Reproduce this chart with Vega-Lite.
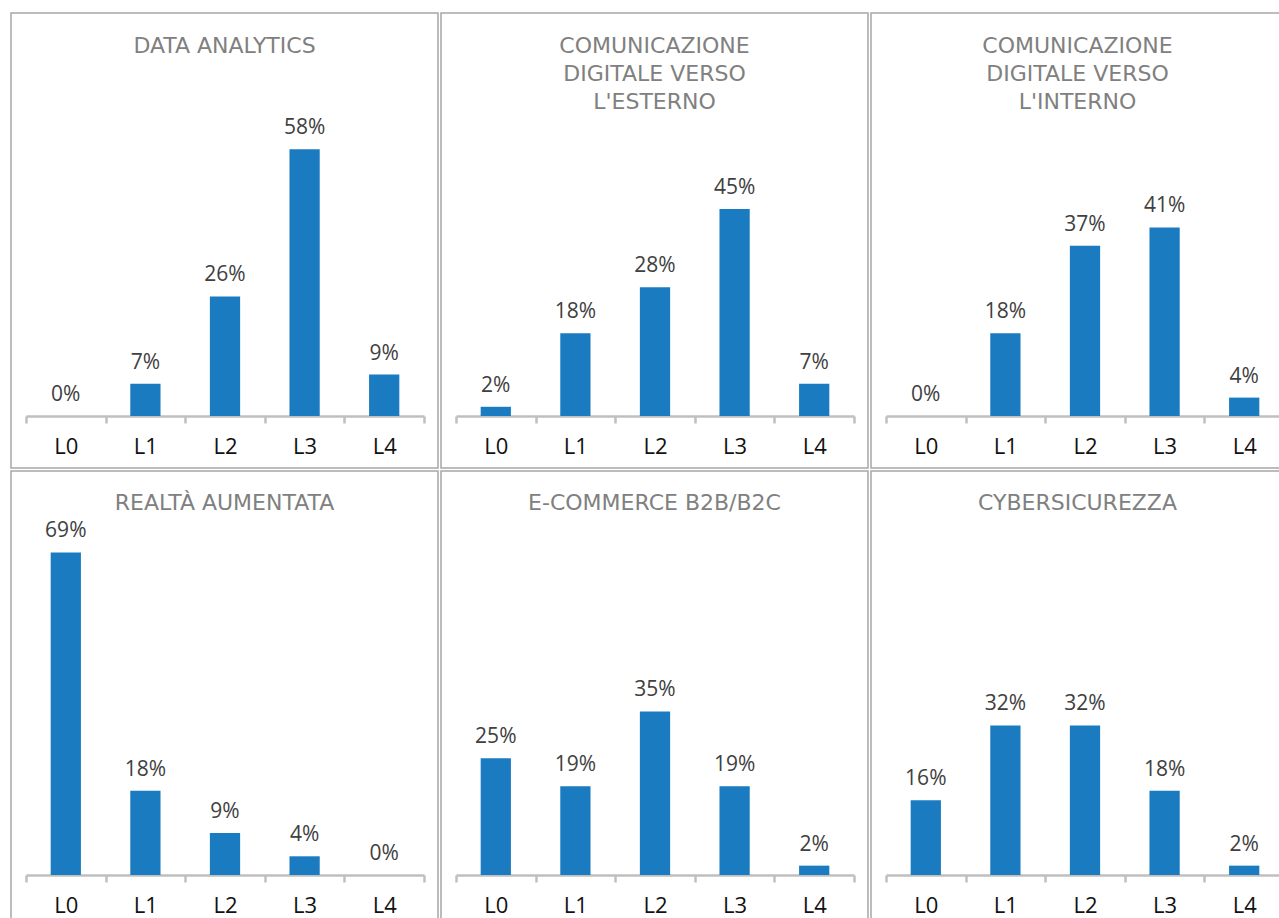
{
  "$schema": "https://vega.github.io/schema/vega-lite/v6.json",
  "padding": {"left": 10, "top": 12, "right": 0, "bottom": 0},
  "background": "white",
  "data": {"values": [
    {"tema": "DA", "livello": "L0", "valore": 0},
    {"tema": "DA", "livello": "L1", "valore": 0.07},
    {"tema": "DA", "livello": "L2", "valore": 0.26},
    {"tema": "DA", "livello": "L3", "valore": 0.58},
    {"tema": "DA", "livello": "L4", "valore": 0.09},
    {"tema": "CE", "livello": "L0", "valore": 0.02},
    {"tema": "CE", "livello": "L1", "valore": 0.18},
    {"tema": "CE", "livello": "L2", "valore": 0.28},
    {"tema": "CE", "livello": "L3", "valore": 0.45},
    {"tema": "CE", "livello": "L4", "valore": 0.07},
    {"tema": "CI", "livello": "L0", "valore": 0},
    {"tema": "CI", "livello": "L1", "valore": 0.18},
    {"tema": "CI", "livello": "L2", "valore": 0.37},
    {"tema": "CI", "livello": "L3", "valore": 0.41},
    {"tema": "CI", "livello": "L4", "valore": 0.04},
    {"tema": "RA", "livello": "L0", "valore": 0.69},
    {"tema": "RA", "livello": "L1", "valore": 0.18},
    {"tema": "RA", "livello": "L2", "valore": 0.09},
    {"tema": "RA", "livello": "L3", "valore": 0.04},
    {"tema": "RA", "livello": "L4", "valore": 0},
    {"tema": "EC", "livello": "L0", "valore": 0.25},
    {"tema": "EC", "livello": "L1", "valore": 0.19},
    {"tema": "EC", "livello": "L2", "valore": 0.35},
    {"tema": "EC", "livello": "L3", "valore": 0.19},
    {"tema": "EC", "livello": "L4", "valore": 0.02},
    {"tema": "CS", "livello": "L0", "valore": 0.16},
    {"tema": "CS", "livello": "L1", "valore": 0.32},
    {"tema": "CS", "livello": "L2", "valore": 0.32},
    {"tema": "CS", "livello": "L3", "valore": 0.18},
    {"tema": "CS", "livello": "L4", "valore": 0.02}
  ]},
  "columns": 3,
  "spacing": {"row": 1, "column": 1},
  "concat": [
    {
      "width": 427, "height": 455,
      "title": {"text": "DATA ANALYTICS", "offset": -45},
      "transform": [{"filter": "datum.tema === 'DA'"}],
      "layer": [
        {"mark": {"type": "bar", "color": "#1b7bc0", "width": {"band": 0.38}},
         "encoding": {
           "x": {"field": "livello", "type": "nominal", "scale": {"range": [15, 413], "paddingInner": 0, "paddingOuter": 0}, "axis": {"offset": -52}},
           "y": {"field": "valore", "type": "quantitative", "scale": {"domain": [0, 0.8], "range": [403, 35]}, "axis": null}}},
        {"mark": {"type": "text", "baseline": "alphabetic", "dy": -15, "fontSize": 21, "font": "Open Sans", "color": "#404040"},
         "encoding": {
           "x": {"field": "livello", "type": "nominal"},
           "y": {"field": "valore", "type": "quantitative"},
           "text": {"field": "valore", "type": "quantitative", "format": ".0%"}}}
      ]
    },
    {
      "width": 427, "height": 455,
      "title": {"text": ["COMUNICAZIONE", "DIGITALE VERSO", "L'ESTERNO"], "offset": -101},
      "transform": [{"filter": "datum.tema === 'CE'"}],
      "layer": [
        {"mark": {"type": "bar", "color": "#1b7bc0", "width": {"band": 0.38}},
         "encoding": {
           "x": {"field": "livello", "type": "nominal", "scale": {"range": [15, 413], "paddingInner": 0, "paddingOuter": 0}, "axis": {"offset": -52}},
           "y": {"field": "valore", "type": "quantitative", "scale": {"domain": [0, 0.8], "range": [403, 35]}, "axis": null}}},
        {"mark": {"type": "text", "baseline": "alphabetic", "dy": -15, "fontSize": 21, "font": "Open Sans", "color": "#404040"},
         "encoding": {
           "x": {"field": "livello", "type": "nominal"},
           "y": {"field": "valore", "type": "quantitative"},
           "text": {"field": "valore", "type": "quantitative", "format": ".0%"}}}
      ]
    },
    {
      "width": 413, "height": 455,
      "title": {"text": ["COMUNICAZIONE", "DIGITALE VERSO", "L'INTERNO"], "offset": -101},
      "transform": [{"filter": "datum.tema === 'CI'"}],
      "layer": [
        {"mark": {"type": "bar", "color": "#1b7bc0", "width": {"band": 0.38}},
         "encoding": {
           "x": {"field": "livello", "type": "nominal", "scale": {"range": [15, 413], "paddingInner": 0, "paddingOuter": 0}, "axis": {"offset": -52}},
           "y": {"field": "valore", "type": "quantitative", "scale": {"domain": [0, 0.8], "range": [403, 35]}, "axis": null}}},
        {"mark": {"type": "text", "baseline": "alphabetic", "dy": -15, "fontSize": 21, "font": "Open Sans", "color": "#404040"},
         "encoding": {
           "x": {"field": "livello", "type": "nominal"},
           "y": {"field": "valore", "type": "quantitative"},
           "text": {"field": "valore", "type": "quantitative", "format": ".0%"}}}
      ]
    },
    {
      "width": 427, "height": 448,
      "title": {"text": "REALTÀ AUMENTATA", "offset": -44},
      "transform": [{"filter": "datum.tema === 'RA'"}],
      "layer": [
        {"mark": {"type": "bar", "color": "#1b7bc0", "width": {"band": 0.38}},
         "encoding": {
           "x": {"field": "livello", "type": "nominal", "scale": {"range": [15, 413], "paddingInner": 0, "paddingOuter": 0}, "axis": {"offset": -44}},
           "y": {"field": "valore", "type": "quantitative", "scale": {"domain": [0, 0.8], "range": [404, 30]}, "axis": null}}},
        {"mark": {"type": "text", "baseline": "alphabetic", "dy": -15, "fontSize": 21, "font": "Open Sans", "color": "#404040"},
         "encoding": {
           "x": {"field": "livello", "type": "nominal"},
           "y": {"field": "valore", "type": "quantitative"},
           "text": {"field": "valore", "type": "quantitative", "format": ".0%"}}}
      ]
    },
    {
      "width": 427, "height": 448,
      "title": {"text": "E-COMMERCE B2B/B2C", "offset": -44},
      "transform": [{"filter": "datum.tema === 'EC'"}],
      "layer": [
        {"mark": {"type": "bar", "color": "#1b7bc0", "width": {"band": 0.38}},
         "encoding": {
           "x": {"field": "livello", "type": "nominal", "scale": {"range": [15, 413], "paddingInner": 0, "paddingOuter": 0}, "axis": {"offset": -44}},
           "y": {"field": "valore", "type": "quantitative", "scale": {"domain": [0, 0.8], "range": [404, 30]}, "axis": null}}},
        {"mark": {"type": "text", "baseline": "alphabetic", "dy": -15, "fontSize": 21, "font": "Open Sans", "color": "#404040"},
         "encoding": {
           "x": {"field": "livello", "type": "nominal"},
           "y": {"field": "valore", "type": "quantitative"},
           "text": {"field": "valore", "type": "quantitative", "format": ".0%"}}}
      ]
    },
    {
      "width": 413, "height": 448,
      "title": {"text": "CYBERSICUREZZA", "offset": -44},
      "transform": [{"filter": "datum.tema === 'CS'"}],
      "layer": [
        {"mark": {"type": "bar", "color": "#1b7bc0", "width": {"band": 0.38}},
         "encoding": {
           "x": {"field": "livello", "type": "nominal", "scale": {"range": [15, 413], "paddingInner": 0, "paddingOuter": 0}, "axis": {"offset": -44}},
           "y": {"field": "valore", "type": "quantitative", "scale": {"domain": [0, 0.8], "range": [404, 30]}, "axis": null}}},
        {"mark": {"type": "text", "baseline": "alphabetic", "dy": -15, "fontSize": 21, "font": "Open Sans", "color": "#404040"},
         "encoding": {
           "x": {"field": "livello", "type": "nominal"},
           "y": {"field": "valore", "type": "quantitative"},
           "text": {"field": "valore", "type": "quantitative", "format": ".0%"}}}
      ]
    }
  ],
  "config": {
    "view": {"stroke": "#a6a6a6", "strokeWidth": 1.5},
    "title": {"font": "DejaVu Sans", "fontSize": 22, "fontWeight": "normal", "color": "#808080", "lineHeight": 28, "anchor": "middle", "frame": "group", "baseline": "top"},
    "axisX": {"title": null, "tickBand": "extent", "labelAngle": 0, "labelFont": "Open Sans", "labelFontSize": 22, "labelColor": "#111111", "labelPadding": 13, "domainColor": "#bfbfbf", "domainWidth": 2.5, "tickColor": "#bfbfbf", "tickWidth": 2.5, "tickSize": 7}
  }
}
